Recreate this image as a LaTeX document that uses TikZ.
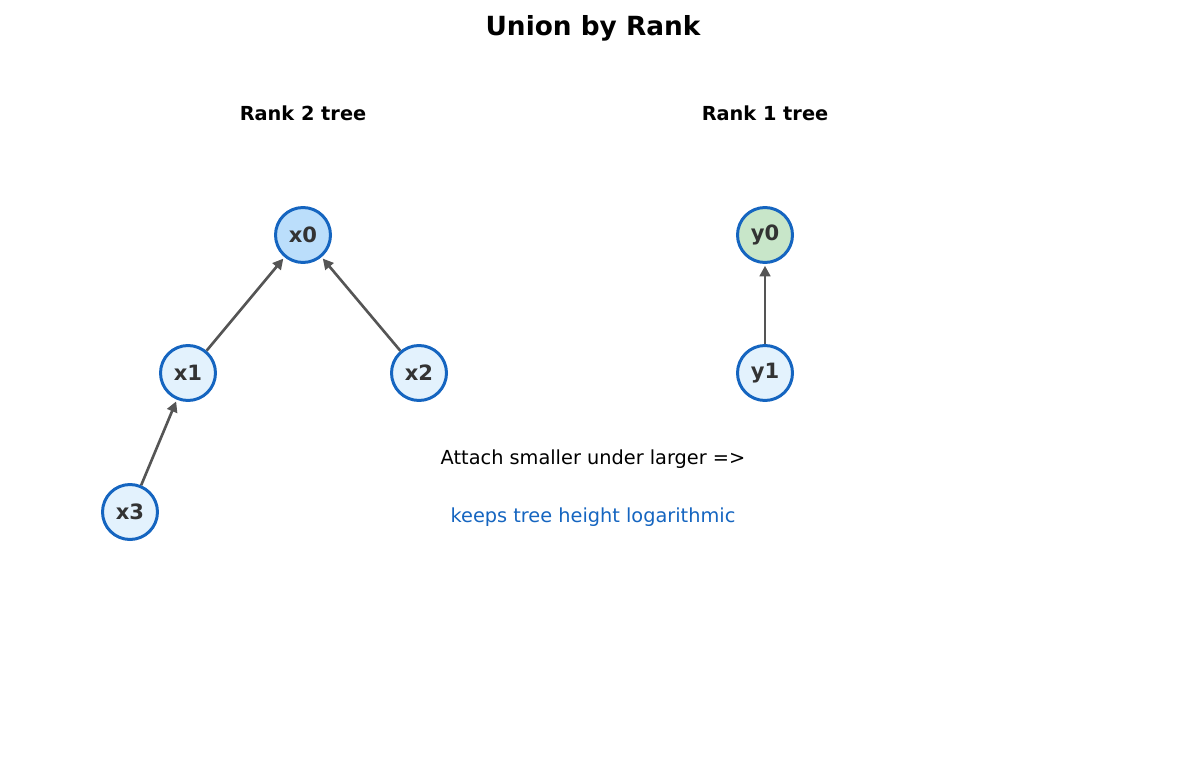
\documentclass[tikz,border=0pt]{standalone}
\usepackage{fontspec}
\setmainfont{DejaVu Sans}
\usetikzlibrary{arrows.meta}
\definecolor{edgeblue}{HTML}{1565C0}
\definecolor{rootfill}{HTML}{BBDEFB}
\definecolor{leaffill}{HTML}{E3F2FD}
\definecolor{greenfill}{HTML}{C8E6C9}
\definecolor{labelgray}{HTML}{333333}
\definecolor{arrowgray}{HTML}{555555}
\begin{document}
\begin{tikzpicture}[x=0.02cm,y=-0.02cm,
        base/.style={circle,draw=edgeblue,line width=1.7pt,minimum size=1.1cm,inner sep=0pt,
            fill=leaffill,text=labelgray,font=\fontsize{12}{14}\selectfont\bfseries},
        root/.style={base,fill=rootfill},
        groot/.style={base,fill=greenfill},
        link/.style={draw=arrowgray,line width=1.5pt,-{Stealth[length=6pt,width=6pt,inset=0pt]},shorten >=1pt}]
        \useasboundingbox (0,0) rectangle (1185,770);
        % Titles
        \node (title) at (593,28) {\fontsize{15}{18}\selectfont\bfseries Union by Rank};
        \node (lt) at (303,113) {\fontsize{11}{13}\selectfont\bfseries Rank 2 tree};
        \node (rt) at (765,113) {\fontsize{11}{13}\selectfont\bfseries Rank 1 tree};
        % Left tree
        \node[root] (x0) at (303,235) {x0};
        \node[base] (x1) at (188,373) {x1};
        \node[base] (x2) at (419,373) {x2};
        \node[base] (x3) at (130,512) {x3};
        \draw[link] (x1) -- (x0);
        \draw[link] (x2) -- (x0);
        \draw[link] (x3) -- (x1);
        % Right tree
        \node[groot] (y0) at (765,235) {y0};
        \node[base] (y1) at (765,373) {y1};
        \draw[link] (y1) -- (y0);
        % Notes
        \node (note1) at (593,459) {\fontsize{11}{13}\selectfont Attach smaller under larger =>};
        \node[text=edgeblue] (note2) at (593,517) {\fontsize{11}{13}\selectfont keeps tree height logarithmic};
\end{tikzpicture}
\end{document}
